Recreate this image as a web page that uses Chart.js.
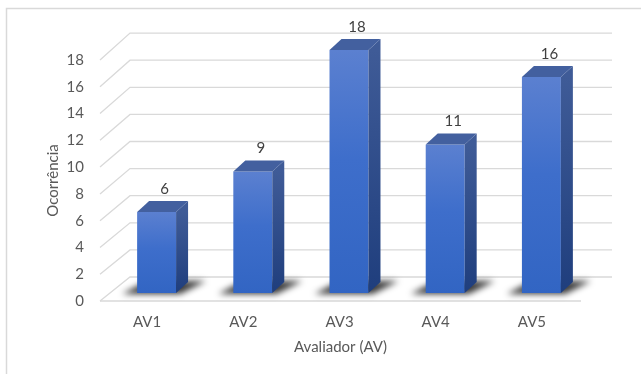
<!DOCTYPE html>
<html>
<head>
<meta charset="utf-8">
<script src="https://cdn.jsdelivr.net/npm/chart.js@4/dist/chart.umd.min.js"></script>
<style>
  html, body { margin: 0; padding: 0; background: #ffffff; }
  canvas { display: block; }
</style>
</head>
<body>
<canvas id="chart" width="641" height="374"></canvas>
<script>
// Occurrences per evaluator
const categories = ['AV1', 'AV2', 'AV3', 'AV4', 'AV5'];
const occurrences = [6, 9, 18, 11, 16];
const yTickValues = [0, 2, 4, 6, 8, 10, 12, 14, 16, 18];
const xAxisTitle = 'Avaliador (AV)';
const yAxisTitle = 'Ocorrência';

const FONT_FAMILY = 'Lato, "Open Sans", "DejaVu Sans", sans-serif';
const FONT_SIZE = 15;
const TEXT_COLOR = '#595959';
const GRID_COLOR = '#d9d9d9';

// 3D box geometry (pixels)
const WALL_DX = 30, WALL_DY = 24, WALL_PERSPECTIVE = 1.012; // back wall vs front edge
const BAR_DX = 8.5, BAR_DY = 8, BAR_SY = 1.008;            // bar plane vs front edge
const DEPTH_X = 12, DEPTH_Y = 11;                          // bar extrusion

function backWallY(scale, v) {
  const y0 = scale.getPixelForValue(0);
  return y0 - WALL_DY - (y0 - scale.getPixelForValue(v)) * WALL_PERSPECTIVE;
}

function applyBarTransform(ctx, y0) {
  ctx.translate(BAR_DX, y0 - BAR_DY);
  ctx.scale(1, BAR_SY);
  ctx.translate(0, -y0);
}

function mapBarPoint(x, y, y0) {
  return { x: x + BAR_DX, y: y0 - BAR_DY + (y - y0) * BAR_SY };
}

const box3d = {
  id: 'box3d',
  beforeDraw(chart) {
    const ctx = chart.ctx;
    ctx.save();
    ctx.strokeStyle = GRID_COLOR;
    ctx.lineWidth = 1.5;
    ctx.beginPath();
    ctx.moveTo(6.5, chart.height + 2);
    ctx.lineTo(6.5, 8.5);
    ctx.lineTo(chart.width + 2, 8.5);
    ctx.stroke();
    ctx.restore();
  },
  beforeDatasetsDraw(chart) {
    const ctx = chart.ctx;
    const y = chart.scales.y;
    const area = chart.chartArea;
    const y0 = y.getPixelForValue(0);

    // walls: back-wall gridlines, side-wall diagonals, floor front edge
    ctx.save();
    ctx.strokeStyle = GRID_COLOR;
    ctx.lineWidth = 1.3;
    yTickValues.forEach(v => {
      const fy = y.getPixelForValue(v);
      const by = backWallY(y, v);
      ctx.beginPath();
      ctx.moveTo(area.left, fy);
      ctx.lineTo(area.left + WALL_DX, by);
      ctx.lineTo(area.right + WALL_DX + 1, by);
      ctx.stroke();
    });
    ctx.beginPath();
    ctx.moveTo(area.left, y0);
    ctx.lineTo(area.right, y0);
    ctx.stroke();
    ctx.restore();

    // bar plane + floor shadows
    ctx.save();
    applyBarTransform(ctx, y0);
    const meta = chart.getDatasetMeta(0);
    meta.data.forEach(bar => {
      const p = bar.getProps(['x', 'base', 'width'], true);
      const l = p.x - p.width / 2, r = p.x + p.width / 2, b = p.base;
      ctx.save();
      ctx.filter = 'blur(3px)';
      ctx.fillStyle = 'rgba(0,0,0,0.78)';
      ctx.beginPath();
      ctx.moveTo(l - 15, b + 1);
      ctx.lineTo(r + 4, b + 1);
      ctx.lineTo(r + DEPTH_X + 18, b - DEPTH_Y - 1);
      ctx.lineTo(l + DEPTH_X - 2, b - DEPTH_Y - 1);
      ctx.closePath();
      ctx.fill();
      ctx.restore();
    });
  },
  afterDatasetsDraw(chart) {
    const ctx = chart.ctx;
    const y0 = chart.scales.y.getPixelForValue(0);
    const meta = chart.getDatasetMeta(0);
    meta.data.forEach(bar => {
      const p = bar.getProps(['x', 'y', 'base', 'width'], true);
      const l = p.x - p.width / 2, r = p.x + p.width / 2;
      // side face
      const g = ctx.createLinearGradient(0, p.y, 0, p.base);
      g.addColorStop(0, '#3f5b97');
      g.addColorStop(1, '#1f3e7d');
      ctx.fillStyle = g;
      ctx.beginPath();
      ctx.moveTo(r, p.y);
      ctx.lineTo(r + DEPTH_X, p.y - DEPTH_Y);
      ctx.lineTo(r + DEPTH_X, p.base - DEPTH_Y);
      ctx.lineTo(r, p.base);
      ctx.closePath();
      ctx.fill();
      // top face
      ctx.fillStyle = '#43609f';
      ctx.beginPath();
      ctx.moveTo(l, p.y);
      ctx.lineTo(l + DEPTH_X, p.y - DEPTH_Y);
      ctx.lineTo(r + DEPTH_X, p.y - DEPTH_Y);
      ctx.lineTo(r, p.y);
      ctx.closePath();
      ctx.fill();
    });
    ctx.restore(); // leave bar plane

    // value labels above each bar
    ctx.save();
    ctx.font = FONT_SIZE + 'px ' + FONT_FAMILY;
    ctx.fillStyle = '#404040';
    ctx.textAlign = 'center';
    ctx.textBaseline = 'middle';
    meta.data.forEach((bar, i) => {
      const p = bar.getProps(['x', 'y'], true);
      const q = mapBarPoint(p.x, p.y, y0);
      ctx.fillText(String(chart.data.datasets[0].data[i]), q.x + 8, q.y - 23);
    });
    ctx.restore();
  }
};

function frontGradient(context) {
  const chart = context.chart;
  if (!chart.chartArea || !chart.scales.y) return '#3d6cc9';
  const y = chart.scales.y;
  const top = y.getPixelForValue(context.raw);
  const base = y.getPixelForValue(0);
  const g = chart.ctx.createLinearGradient(0, top, 0, base);
  g.addColorStop(0, '#5b80d0');
  g.addColorStop(0.45, '#3e6ecb');
  g.addColorStop(1, '#3265c3');
  return g;
}

new Chart(document.getElementById('chart'), {
  type: 'bar',
  data: {
    labels: categories,
    datasets: [{
      data: occurrences,
      backgroundColor: frontGradient,
      borderWidth: 0,
      barPercentage: 0.405,
      categoryPercentage: 1,
      clip: false
    }]
  },
  options: {
    responsive: false,
    animation: false,
    events: [],
    layout: { padding: { left: 0, right: 60, top: 60, bottom: 0 } },
    plugins: { legend: { display: false }, tooltip: { enabled: false } },
    scales: {
      x: {
        grid: { display: false, drawTicks: false },
        border: { display: false },
        ticks: {
          color: TEXT_COLOR,
          font: { family: FONT_FAMILY, size: FONT_SIZE },
          padding: 12,
          labelOffset: -1,
          maxRotation: 0
        },
        title: {
          display: true,
          text: xAxisTitle,
          color: TEXT_COLOR,
          font: { family: FONT_FAMILY, size: FONT_SIZE },
          padding: { top: 0, bottom: 18 }
        },
        afterFit(scale) { scale.height = 73; }
      },
      y: {
        min: 0,
        max: 18,
        grid: { display: false, drawTicks: false },
        border: { display: false },
        afterBuildTicks(scale) { scale.ticks = yTickValues.map(v => ({ value: v })); },
        ticks: {
          color: TEXT_COLOR,
          font: { family: FONT_FAMILY, size: FONT_SIZE },
          padding: 16
        },
        title: {
          display: true,
          text: yAxisTitle,
          color: TEXT_COLOR,
          font: { family: FONT_FAMILY, size: FONT_SIZE },
          padding: { top: 44, bottom: 0 }
        },
        afterFit(scale) { scale.width = 100; }
      }
    }
  },
  plugins: [box3d]
});
</script>
</body>
</html>
